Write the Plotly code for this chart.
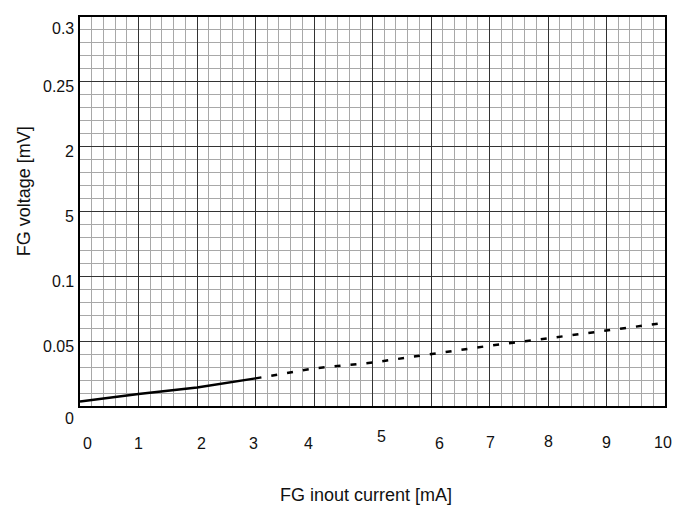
import plotly.graph_objects as go

# Data
solid_x = [0, 1, 2, 3]
solid_y = [0.0034, 0.0092, 0.0143, 0.0213]
dash_x = [3, 4, 5, 6, 7, 8, 9, 10]
dash_y = [0.0213, 0.0290, 0.0335, 0.0402, 0.0465, 0.0522, 0.0582, 0.0642]

x_ticks = [0, 1, 2, 3, 4, 5, 6, 7, 8, 9, 10]
x_tick_labels = ["0", "1", "2", "3", "4", "5", "6", "7", "8", "9", "10"]
y_ticks = [0, 0.05, 0.1, 0.15, 0.2, 0.25, 0.3]
y_tick_labels = ["0", "0.05", "0.1", "5", "2", "0.25", "0.3"]

# label placement tweaks (style only)
x_label_xshift = [7, 0, 4, -2, -6, 9, 8, 1, 0, 0, -2]
x_label_yshift = [-37, -37, -37, -37, -37, -30, -37, -36, -35, -36, -36]
y_label_yshift = [-12, -5, -5, -5, -5, -5, -11]

FONT = "Liberation Sans, Arial, sans-serif"

fig = go.Figure()
fig.add_trace(go.Scatter(x=solid_x, y=solid_y, mode="lines",
                         line=dict(color="black", width=2.5), showlegend=False))
fig.add_trace(go.Scatter(x=dash_x, y=dash_y, mode="lines",
                         line=dict(color="black", width=2.5, dash="6px,10px"), showlegend=False))

annotations = []
for v, t, dx, dy in zip(x_ticks, x_tick_labels, x_label_xshift, x_label_yshift):
    annotations.append(dict(x=v, y=0, xref="x", yref="y", text=t, showarrow=False,
                            xanchor="center", yanchor="middle", xshift=dx, yshift=dy,
                            font=dict(family=FONT, size=16, color="#111")))
for v, t, dy in zip(y_ticks, y_tick_labels, y_label_yshift):
    annotations.append(dict(x=0, y=v, xref="x", yref="y", text=t, showarrow=False,
                            xanchor="right", yanchor="middle", xshift=-4, yshift=dy,
                            font=dict(family=FONT, size=16, color="#111")))
annotations.append(dict(x=0.5, y=-0.228, xref="paper", yref="paper",
                        text="FG inout current [mA]", showarrow=False,
                        xanchor="center", yanchor="middle", xshift=-7,
                        font=dict(family=FONT, size=18, color="#111")))
annotations.append(dict(x=0, y=0.552, xref="paper", yref="paper",
                        text="FG voltage [mV]", showarrow=False, textangle=-90,
                        xanchor="center", yanchor="middle", xshift=-56,
                        font=dict(family=FONT, size=18, color="#111")))

# compensate for the page's default 8px body margin
fig.update_layout(
    width=681, height=502,
    margin=dict(l=72, r=24, t=7, b=104),
    paper_bgcolor="white", plot_bgcolor="white",
    annotations=annotations,
    xaxis=dict(range=[0, 10], dtick=1, tick0=0, showticklabels=False, ticks="",
               showgrid=True, gridcolor="#333333", gridwidth=1,
               minor=dict(dtick=0.2, tick0=0, showgrid=True, gridcolor="#a8a8a8", gridwidth=1),
               showline=True, linecolor="black", linewidth=1.5, mirror=True, zeroline=False),
    yaxis=dict(range=[0, 0.3], dtick=0.05, tick0=0, showticklabels=False, ticks="",
               showgrid=True, gridcolor="#333333", gridwidth=1,
               minor=dict(dtick=0.01, tick0=0, showgrid=True, gridcolor="#a8a8a8", gridwidth=1),
               showline=True, linecolor="black", linewidth=1.5, mirror=True, zeroline=False),
)

fig.write_html("out.html")
